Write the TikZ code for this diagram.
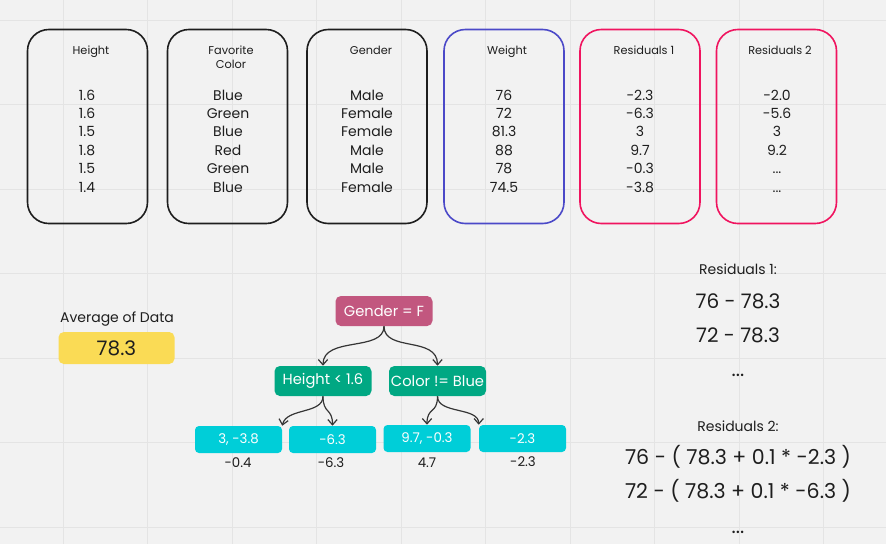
\documentclass[tikz,border=0pt]{standalone}
\usepackage{fontspec}
\setmainfont{Poppins}
\usetikzlibrary{arrows.meta}

\definecolor{bgpaper}{HTML}{F2F2F2}
\definecolor{gridgray}{HTML}{E4E4E4}
\definecolor{inkdark}{HTML}{1E1E1E}
\definecolor{colblue}{HTML}{4B49C8}
\definecolor{colpink}{HTML}{F0145F}
\definecolor{rootmauve}{HTML}{C2577F}
\definecolor{splitgreen}{HTML}{00A883}
\definecolor{leafcyan}{HTML}{00CED8}
\definecolor{avgyellow}{HTML}{FADB55}

\tikzset{
  column/.style={draw=inkdark, line width=1.2pt, rounded corners=16pt,
    minimum width=90pt, minimum height=145.5pt},
  colhead/.style={font=\fontsize{8.5}{10.5}\selectfont, text=inkdark, align=center},
  colvals/.style={font=\fontsize{10.5}{13.8}\selectfont, text=inkdark, align=center},
  tnode/.style={rounded corners=4pt, text=white, inner sep=0pt,
    font=\fontsize{11}{13}\selectfont, minimum width=72.75pt, minimum height=22.5pt},
  leaf/.style={fill=leafcyan, rounded corners=3pt, text=white, inner sep=0pt,
    font=\fontsize{10}{12}\selectfont, minimum width=65.25pt, minimum height=20.25pt},
  leafval/.style={font=\fontsize{10}{12}\selectfont, text=inkdark},
  branch/.style={draw=inkdark!90, line width=0.9pt,
    -{Straight Barb[length=4pt, width=7pt]}},
  gridline/.style={draw=gridgray, line width=0.6pt},
  smalltxt/.style={font=\fontsize{10.5}{12}\selectfont, text=inkdark},
  bigtxt/.style={font=\fontsize{15}{18}\selectfont, text=inkdark}
}

\begin{document}
\begin{tikzpicture}[x=0.75pt, y=-0.75pt]
    % Paper and grid
    \fill[bgpaper] (0,0) rectangle (886,544);
    \useasboundingbox (0,0) rectangle (886,544);
    \foreach \k in {0,...,9}
        \draw[gridline] ({63+84.5*\k},0) -- ({63+84.5*\k},544);
    \foreach \k in {0,...,6}
        \draw[gridline] (0,{20+84.5*\k}) -- (886,{20+84.5*\k});

    % Data columns
    \node (hgtcol) [column] at (87.5,126.5) {};
    \node (hgthead) [colhead] at (91,52) {Height};
    \node (hgtvals) [colvals] at (87,141) {1.6\\1.6\\1.5\\1.8\\1.5\\1.4};

    \node (favcol) [column] at (227.5,126.5) {};
    \node (favhead) [colhead] at (231,57) {Favorite\\Color};
    \node (favvals) [colvals] at (228,141) {Blue\\Green\\Blue\\Red\\Green\\Blue};

    \node (gencol) [column] at (367,126.5) {};
    \node (genhead) [colhead] at (371,50) {Gender};
    \node (genvals) [colvals] at (367,141) {Male\\Female\\Female\\Male\\Male\\Female};

    \node (wgtcol) [column, draw=colblue] at (504,126.5) {};
    \node (wgthead) [colhead] at (507,52) {Weight};
    \node (wgtvals) [colvals] at (504,141) {76\\72\\81.3\\88\\78\\74.5};

    \node (resonecol) [column, draw=colpink] at (640,126.5) {};
    \node (resonehead) [colhead] at (644,50) {Residuals 1};
    \node (resonevals) [colvals] at (640,141) {-2.3\\-6.3\\3\\9.7\\-0.3\\-3.8};

    \node (restwocol) [column, draw=colpink] at (776.5,126.5) {};
    \node (restwohead) [colhead] at (780,50) {Residuals 2};
    \node (restwovals) [colvals] at (777,141) {-2.0\\-5.6\\3\\9.2\\...\\...};

    % Average
    \node (avglabel) [smalltxt] at (117,319) {Average of Data};
    \node (avgbox) [fill=avgyellow, rounded corners=4pt, inner sep=0pt,
        minimum width=87pt, minimum height=24pt, bigtxt] at (116.5,348) {78.3};

    % Tree
    \node (root) [tnode, fill=rootmauve] at (384,311) {Gender = F};
    \node (hgtsplit) [tnode, fill=splitgreen] at (323,381) {Height < 1.6};
    \node (colsplit) [tnode, fill=splitgreen] at (437.5,381) {Color != Blue};
    \node (leafa) [leaf] at (238.5,439.5) {3, -3.8};
    \node (leafb) [leaf] at (332.5,439.5) {-6.3};
    \node (leafc) [leaf] at (427,438.5) {9.7, -0.3};
    \node (leafd) [leaf] at (522.5,438.5) {-2.3};
    \node (vala) [leafval] at (238,463) {-0.4};
    \node (valb) [leafval] at (331,463) {-6.3};
    \node (valc) [leafval] at (427,463) {4.7};
    \node (vald) [leafval] at (523,462) {-2.3};

    % Edges
    \draw[branch] (root.south) .. controls +(0,26) and +(0,-30) .. (hgtsplit.north);
    \draw[branch] (root.south) .. controls +(0,26) and +(0,-30) .. (colsplit.north);
    \draw[branch] (hgtsplit.south) .. controls +(0,18) and +(4,-18) .. (leafa.north east);
    \draw[branch] (hgtsplit.south) .. controls +(0,18) and +(0,-18) .. (leafb.north);
    \draw[branch] (colsplit.south) .. controls +(0,18) and +(0,-18) .. (leafc.north);
    \draw[branch] (colsplit.south) .. controls +(0,18) and +(0,-18) .. (leafd.north west);

    % Residual formulas
    \node (resonetitle) [smalltxt] at (738,269) {Residuals 1:};
    \node (resonea) [bigtxt] at (738,301) {76 - 78.3};
    \node (resoneb) [bigtxt] at (738,335) {72 - 78.3};
    \node (resonedots) [bigtxt, anchor=base] at (738,376) {...};
    \node (restwotitle) [smalltxt] at (738,426) {Residuals 2:};
    \node (restwoa) [bigtxt, font=\fontsize{15.4}{18}\selectfont] at (738,457) {76 - ( 78.3 + 0.1 * -2.3 )};
    \node (restwob) [bigtxt, font=\fontsize{15.4}{18}\selectfont] at (738,491) {72 - ( 78.3 + 0.1 * -6.3 )};
    \node (restwodots) [bigtxt, anchor=base] at (738,533) {...};
\end{tikzpicture}
\end{document}
